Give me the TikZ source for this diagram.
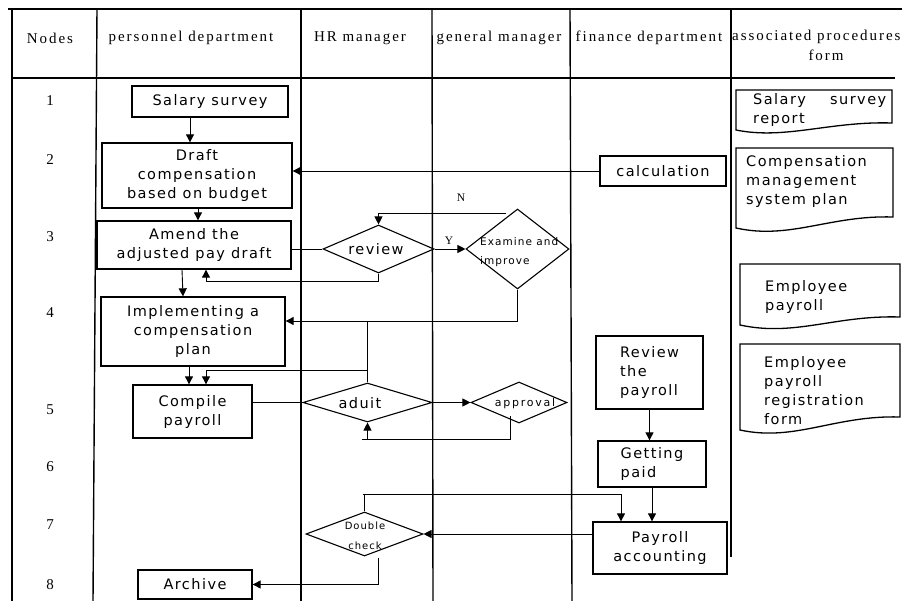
\documentclass[tikz,border=0pt]{standalone}
\usepackage{fontspec}
\setmainfont{DejaVu Sans}
\newfontfamily\hdrfont[LetterSpace=13]{Liberation Serif}
\newfontfamily\bodyfont[LetterSpace=10]{DejaVu Sans}
\newfontfamily\widefont[LetterSpace=16]{DejaVu Sans}
\usetikzlibrary{shapes.geometric,arrows.meta,calc}
\begin{document}
\begin{tikzpicture}[x=1pt,y=-1pt,
  tbl/.style={line width=1.4pt},
  box/.style={draw, line width=1.3pt, inner sep=0pt, align=center, font=\bodyfont\fontsize{14.5}{19}\selectfont},
  dia/.style={draw, diamond, line width=1.1pt, inner sep=0pt},
  txt/.style={inner sep=0pt, align=left, font=\bodyfont\fontsize{14.5}{19}\selectfont},
  hdr/.style={inner sep=0pt, align=center, font=\hdrfont\fontsize{15}{17}\selectfont},
  yn/.style={inner sep=0pt, font=\hdrfont\fontsize{11.5}{13}\selectfont},
  doc/.style={draw, line width=1.3pt},
  con/.style={line width=0.9pt},
  arr/.style={con, -{Triangle[length=8pt,width=8pt]}},
]
\useasboundingbox (0,0) rectangle (902,601);
% table
\draw[tbl] (8,9) -- (902,9);
\draw[tbl] (12,78) -- (895,78);
\draw[tbl] (12,9) -- (12,601);
\draw[tbl] (97,9) -- (93,601);
\draw[tbl] (301,9) -- (301,601);
\draw[tbl] (432,9) -- (433,601);
\draw[tbl] (570,9) -- (572,601);
\draw[tbl] (731,9) -- (731,557);
% headers
\node[hdr] (h1) at (50,38) {Nodes};
\node[hdr] (h2) at (191,38) {personnel department};
\node[hdr] (h3) at (360,38) {HR manager};
\node[hdr] (h4) at (499,38) {general manager};
\node[hdr] (h5) at (649,38) {finance department};
\node[hdr, anchor=west] (h6) at (732,37) {associated procedures};
\node[hdr] (h7) at (826,55) {form};
% row numbers
\node[hdr] (r1) at (50,101) {1};
\node[hdr] (r2) at (50,160) {2};
\node[hdr] (r3) at (50,237) {3};
\node[hdr] (r4) at (50,313) {4};
\node[hdr] (r5) at (50,410) {5};
\node[hdr] (r6) at (50,467) {6};
\node[hdr] (r7) at (50,525) {7};
\node[hdr] (r8) at (50,585) {8};
% boxes
\node[box, minimum width=156pt, minimum height=31pt] (ss) at (210,101.5) {Salary survey};
\node[box, minimum width=190pt, minimum height=65pt] (draft) at (197,175.5) {Draft\\compensation\\based on budget};
\node[box, minimum width=194pt, minimum height=48pt] (amend) at (194,245) {Amend the\\adjusted pay draft};
\node[box, minimum width=184pt, minimum height=69pt] (impl) at (193,331.5) {Implementing a\\compensation\\plan};
\node[box, minimum width=119pt, minimum height=53pt] (comp) at (192.5,411.5) {Compile\\payroll};
\node[box, minimum width=114pt, minimum height=29pt] (arch) at (195,584.5) {Archive};
\node[box, minimum width=126pt, minimum height=30pt] (calc) at (663,171) {calculation};
\node[box, minimum width=107pt, minimum height=73pt, align=left] (revp) at (649.5,372.5) {Review\\the\\payroll};
\node[box, minimum width=108pt, minimum height=46pt, align=left] (getp) at (652,464) {Getting\\paid};
\node[box, minimum width=134pt, minimum height=52pt] (pacc) at (660,548) {Payroll\\accounting};
% diamonds
\node[dia, minimum width=111pt, minimum height=48pt] (rev) at (378.5,249) {};
\node[txt] (revt) at (376,249) {review};
\node[dia, minimum width=103pt, minimum height=80pt] (exa) at (517.5,249) {};
\node[txt, anchor=west, font=\bodyfont\fontsize{10.5}{19}\selectfont] (exat) at (480,252) {Examine and\\improve};
\node[dia, minimum width=129pt, minimum height=39pt] (adu) at (367.5,402.5) {};
\node[txt] (adut) at (360,403) {aduit};
\node[dia, minimum width=96pt, minimum height=41pt] (appr) at (519,402.5) {};
\node[inner sep=0pt, font=\widefont\fontsize{11}{12}\selectfont] (apprt) at (525,403) {approval};
\node[dia, minimum width=117pt, minimum height=44pt] (dbl) at (364.5,534) {};
\node[inner sep=0pt, align=center, font=\bodyfont\fontsize{10}{20}\selectfont] (dblt) at (365,536) {Double\\check};
% documents
\draw[doc] (736,90) -- (892,90) -- (892,123) .. controls (830,121) and (785,140) .. (736,130) -- cycle;
\node[txt, anchor=west, text width=133pt] (d1) at (753,110) {Salary\hfill survey\\report};
\draw[doc] (736,148) -- (893,148) -- (893,217) .. controls (830,215) and (790,240) .. (736,228) -- cycle;
\node[txt, anchor=west] (d2) at (746,182) {Compensation\\management\\system plan};
\draw[doc] (740,264) -- (900,264) -- (900,317) .. controls (835,315) and (795,337) .. (740,325) -- cycle;
\node[txt, anchor=west] (d3) at (765,297) {Employee\\payroll};
\draw[doc] (740,344) -- (900,344) -- (900,417) .. controls (835,415) and (795,442) .. (740,430) -- cycle;
\node[txt, anchor=west] (d4) at (764,391) {Employee\\payroll\\registration\\form};
% connectors
\draw[arr] ([xshift=-20pt]ss.south) -- ([xshift=-20pt]ss.south |- draft.north);
\draw[arr] ([xshift=1pt]draft.south) -- ([xshift=1pt]draft.south |- amend.north);
\draw[arr] ([xshift=-12pt]amend.south) -- ([xshift=-11pt]amend.south |- impl.north);
\draw[con] (amend.east |- rev.west) -- (rev.west);
\draw[arr] (rev.east) -- (exa.west);
\node[yn] (ylab) at (449,241) {Y};
\node[yn] (nlab) at (461,198) {N};
\draw[arr] ($(exa.north)+(-12,5)$) -| (rev.north);
\draw[arr] (rev.south) -- ++(0,8) -| ([xshift=12pt]amend.south);
\draw[arr] (exa.south) |- ([yshift=10.5pt]impl.east);
\coordinate (k1) at (367.5,321);
\coordinate (k2) at (367.5,370);
\draw[con] (adu.north) -- (k1);
\draw[arr] (k2) -| ([xshift=13.5pt]comp.north);
\draw[arr] ([xshift=-4pt]impl.south) -- ([xshift=-4pt]impl.south |- comp.north);
\draw[con] (comp.east |- adu.west) -- (adu.west);
\draw[arr] (adu.east) -- (appr.west);
\coordinate (k3) at (510,416);
\coordinate (k4) at (362,439);
\draw[con] (k3) |- (k4);
\draw[arr] (adu.south |- k4) -- (adu.south);
\draw[arr] (calc.west) -- (calc.west -| draft.east);
\draw[arr] (revp.south) -- (revp.south |- getp.north);
\draw[arr] (getp.south) -- (getp.south |- pacc.north);
\coordinate (k5) at (363,494);
\draw[con] (dbl.north) -- (dbl.north |- k5);
\draw[arr] (k5) -| ([xshift=-39pt]pacc.north);
\draw[arr] (pacc.west |- dbl.east) -- (dbl.east);
\draw[arr] ([xshift=13.5pt,yshift=-1pt]dbl.south) |- (arch.east);
\end{tikzpicture}
\end{document}
